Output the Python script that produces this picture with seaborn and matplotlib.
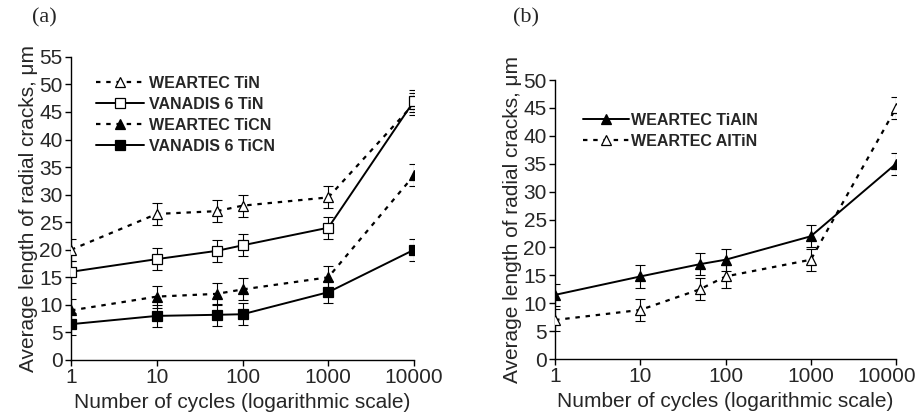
import matplotlib
matplotlib.use("Agg")
import matplotlib.pyplot as plt
import matplotlib.transforms as mtransforms
import numpy as np
import pandas as pd
import seaborn as sns

# DATA
cycles = [1, 10, 50, 100, 1000, 10000]

# panel (a)
weartec_tin = [20, 26.5, 27, 28, 29.5, 46.5]
vanadis_tin = [16, 18.3, 19.8, 20.8, 24, 47]
weartec_ticn = [9, 11.5, 12, 12.8, 15, 33.5]
vanadis_ticn = [6.5, 8, 8.2, 8.3, 12.3, 20]
err_a = [2, 2, 2, 2, 2, 2]

# panel (b)
weartec_tialn = [11.5, 14.8, 17, 17.8, 22, 35]
weartec_altin = [7, 8.8, 12.5, 14.8, 17.8, 45]
err_b = [2, 2, 2, 2, 2, 2]

yticks_a = list(range(0, 56, 5))
yticks_b = list(range(0, 51, 5))
xticks = [1, 10, 100, 1000, 10000]
xticklabels = ["1", "10", "100", "1000", "10000"]

sns.set_style("ticks")
plt.rcParams['font.family'] = ['Liberation Sans', 'DejaVu Sans']

fig = plt.figure(figsize=(9.19, 4.17), dpi=100)
ax_a = fig.add_axes([0.0773, 0.1367, 0.3732, 0.727])
ax_b = fig.add_axes([0.604, 0.139, 0.371, 0.669])

dash = (0, (2.0, 2.6))


def draw(ax, y, err, label, marker, filled, ls):
    df = pd.DataFrame({'cycles': cycles, 'length': y})
    fc = 'black' if filled else 'white'
    lw = 1.6 if ls == dash else 1.4
    sns.lineplot(data=df, x='cycles', y='length', ax=ax, color='black',
                 linestyle=ls, linewidth=lw, marker=marker, markersize=7.5,
                 markerfacecolor=fc, markeredgecolor='black',
                 markeredgewidth=0.9, label=label, zorder=3)
    ax.errorbar(cycles, y, yerr=err, fmt='none', ecolor='black',
                elinewidth=0.8, capsize=3.5, capthick=0.8, zorder=2)


draw(ax_a, weartec_tin, err_a, 'WEARTEC TiN', '^', False, dash)
draw(ax_a, vanadis_tin, err_a, 'VANADIS 6 TiN', 's', False, '-')
draw(ax_a, weartec_ticn, err_a, 'WEARTEC TiCN', '^', True, dash)
draw(ax_a, vanadis_ticn, err_a, 'VANADIS 6 TiCN', 's', True, '-')

draw(ax_b, weartec_tialn, err_b, 'WEARTEC TiAIN', '^', True, '-')
draw(ax_b, weartec_altin, err_b, 'WEARTEC AITiN', '^', False, dash)

for ax, yt, top in [(ax_a, yticks_a, 55), (ax_b, yticks_b, 50)]:
    ax.set_xscale('log')
    ax.set_xlim(1, 10000)
    ax.set_ylim(0, top)
    ax.set_xticks(xticks)
    ax.set_xticklabels(xticklabels)
    ax.minorticks_off()
    ax.set_yticks(yt)
    ax.tick_params(labelsize=15, length=4, width=1, color='black', pad=2)
    sns.despine(ax=ax)
    for s in ['left', 'bottom']:
        ax.spines[s].set_linewidth(1)
        ax.spines[s].set_color('black')
    ax.set_xlabel('Number of cycles (logarithmic scale)', fontsize=15, labelpad=4)
    ax.set_ylabel('Average length of radial cracks, μm', fontsize=15, labelpad=1)

ax_a.legend(loc='upper left', bbox_to_anchor=(0.03, 0.985), frameon=False,
            handlelength=3.0, handletextpad=0.35, labelspacing=0.38,
            prop={'weight': 'bold', 'size': 11.5})
ax_b.legend(loc='upper left', bbox_to_anchor=(0.04, 0.935), frameon=False,
            handlelength=2.9, handletextpad=0.1, labelspacing=0.4,
            prop={'weight': 'bold', 'size': 11.5})

# last tick label of panel (b) sits a bit left, as in the original
lbl = ax_b.get_xticklabels()[-1]
lbl.set_transform(lbl.get_transform() +
                  mtransforms.ScaledTranslation(-0.09, 0, fig.dpi_scale_trans))

fig.text(0.035, 0.945, '(a)', fontsize=16, family='Liberation Serif')
fig.text(0.558, 0.945, '(b)', fontsize=16, family='Liberation Serif')

fig.savefig('out.png', dpi=100)
